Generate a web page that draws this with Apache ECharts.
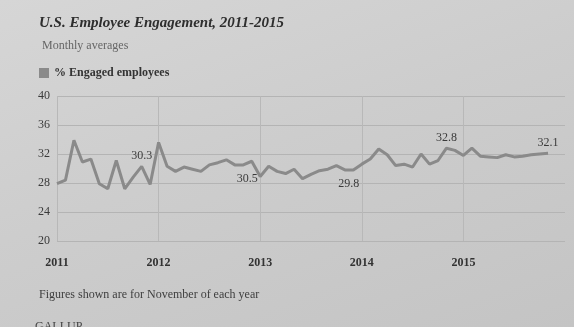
<!DOCTYPE html>
<html>
<head>
<meta charset="utf-8">
<script src="https://cdn.jsdelivr.net/npm/echarts@6/dist/echarts.min.js"></script>
<style>
html,body{margin:0;padding:0;}
body{width:574px;height:327px;overflow:hidden;background:linear-gradient(160deg,#d6d6d6 0%,#cdcdcd 45%,#c4c4c4 100%);}
#c{width:574px;height:327px;}
</style>
</head>
<body>
<div id="c"></div>
<script>
var years = ['2011','2012','2013','2014','2015','2016'];
var engaged = [
  27.9, 28.4, 33.9, 30.9, 31.3, 27.9, 27.2, 31.1, 27.2, 28.8, 30.3, 27.8,
  33.6, 30.3, 29.6, 30.2, 29.9, 29.6, 30.5, 30.8, 31.2, 30.5, 30.5, 31.0,
  28.9, 30.3, 29.6, 29.3, 29.9, 28.6, 29.2, 29.7, 29.9, 30.4, 29.8, 29.8,
  30.6, 31.3, 32.7, 31.9, 30.4, 30.6, 30.2, 32.0, 30.6, 31.1, 32.8, 32.5,
  31.8, 32.8, 31.7, 31.6, 31.5, 31.9, 31.6, 31.7, 31.9, 32.0, 32.1
];
var labelIdx = [10, 22, 34, 46, 58];
var labelPos = ['top', 'bottom', 'bottom', 'top', 'top'];
var yTicks = [20, 24, 28, 32, 36, 40];

var months = [];
for (var y = 0; y < years.length - 1; y++) {
  for (var m = 1; m <= 12; m++) months.push(years[y] + '-' + (m < 10 ? '0' + m : m));
}
months.push(years[years.length - 1] + '-01');

var serif = '"Liberation Serif", "DejaVu Serif", serif';

var seriesData = engaged.map(function (v, i) {
  var k = labelIdx.indexOf(i);
  if (k < 0) return v;
  var bottom = labelPos[k] === 'bottom';
  return {
    value: v,
    label: {
      show: true,
      position: labelPos[k],
      distance: bottom ? 8 : 4,
      offset: bottom ? [4, 0] : [0, 0],
      formatter: function (p) { return p.value.toFixed(1); },
      color: '#3a3a3a',
      fontFamily: serif,
      fontSize: 12
    }
  };
});

var chart = echarts.init(document.getElementById('c'));
chart.setOption({
  backgroundColor: 'transparent',
  animation: false,
  title: [
    { text: 'U.S. Employee Engagement, 2011-2015', left: 34, top: 11,
      textStyle: { fontFamily: serif, fontStyle: 'italic', fontWeight: 'bold', fontSize: 15, color: '#2e2e2e' } },
    { text: 'Monthly averages', left: 37, top: 35,
      textStyle: { fontFamily: serif, fontWeight: 'normal', fontSize: 12, color: '#666' } },
    { text: 'Figures shown are for November of each year', left: 34, top: 284,
      textStyle: { fontFamily: serif, fontWeight: 'normal', fontSize: 12, color: '#3e3e3e' } },
    { text: 'GALLUP', left: 30, top: 316,
      textStyle: { fontFamily: serif, fontWeight: 'normal', fontSize: 12, color: '#444' } }
  ],
  legend: {
    left: 34, top: 62, itemWidth: 10, itemHeight: 10, icon: 'rect', itemGap: 6,
    textStyle: { fontFamily: serif, fontSize: 12, fontWeight: 'bold', color: '#333' },
    data: ['% Engaged employees']
  },
  grid: { left: 57, right: 9, top: 96, bottom: 86 },
  xAxis: {
    type: 'category',
    data: months,
    boundaryGap: false,
    axisLine: { show: false },
    axisTick: { show: false },
    axisLabel: {
      interval: function (i) { return i % 12 === 0 && i < months.length - 1; },
      formatter: function (v) { return v.slice(0, 4); },
      fontFamily: serif, fontSize: 12, fontWeight: 'bold', color: '#333', margin: 16
    },
    splitLine: {
      show: true,
      interval: function (i) { return i % 12 === 0 && i < months.length - 1; },
      lineStyle: { color: '#b8b8b8', width: 1 }
    }
  },
  yAxis: {
    type: 'value', min: yTicks[0], max: yTicks[yTicks.length - 1], interval: 4,
    axisLine: { show: false },
    axisTick: { show: false },
    axisLabel: { fontFamily: serif, fontSize: 12, color: '#3a3a3a', margin: 7 },
    splitLine: { lineStyle: { color: '#b4b4b4', width: 1 } }
  },
  series: [{
    name: '% Engaged employees',
    type: 'line',
    data: seriesData,
    symbol: 'circle',
    symbolSize: 0,
    showAllSymbol: true,
    color: '#8a8a8a',
    itemStyle: { color: '#8a8a8a' },
    lineStyle: { width: 3, color: '#8a8a8a' },
    z: 3
  }]
});
</script>
</body>
</html>
